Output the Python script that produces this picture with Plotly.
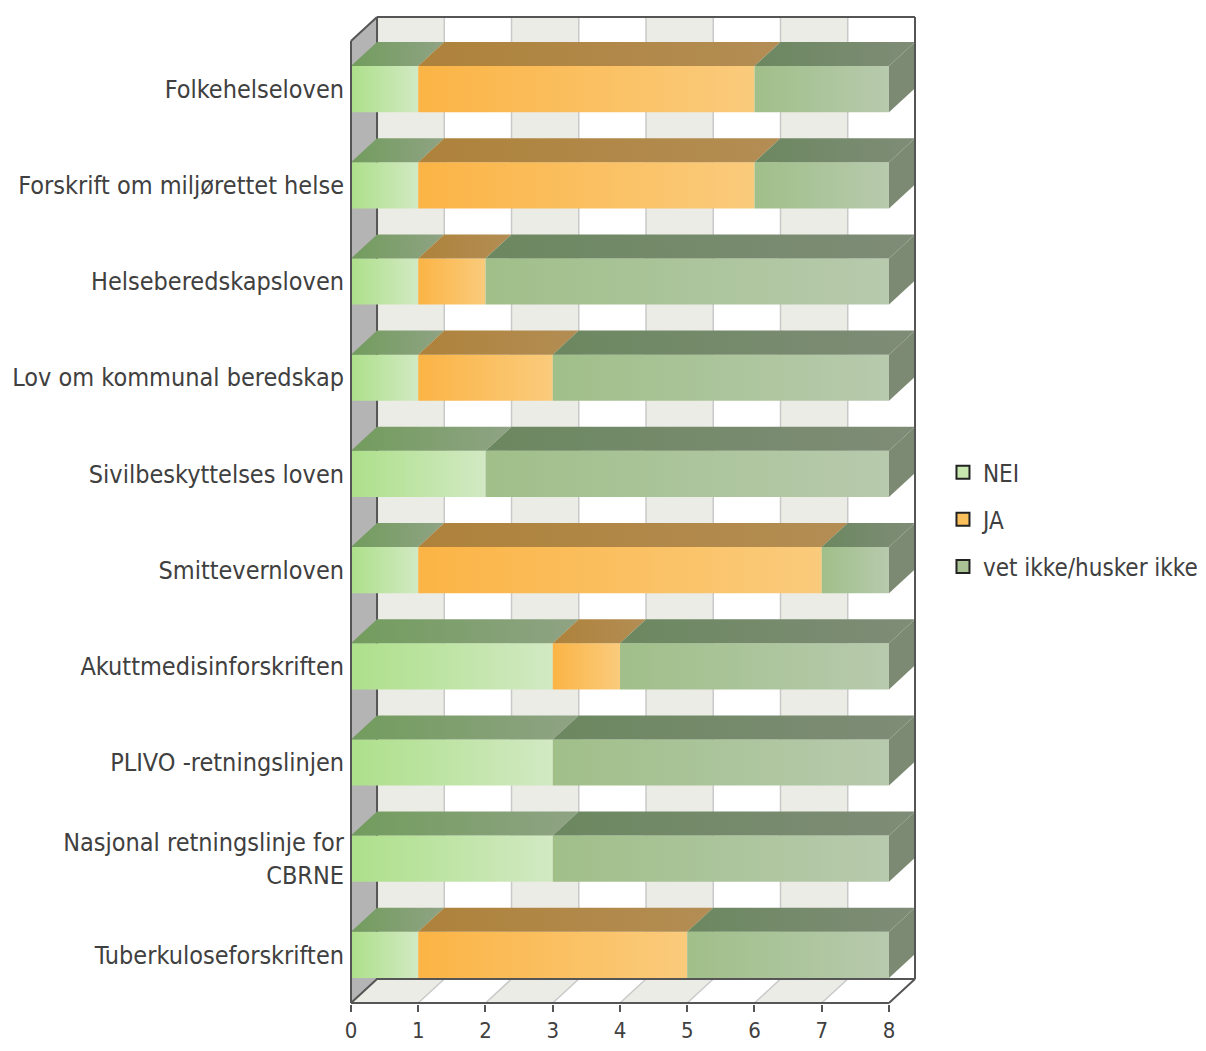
import plotly.graph_objects as go

# Survey answers per regulation: how many respondents answered NEI / JA / vet ikke
categories = [
    "Folkehelseloven",
    "Forskrift om miljørettet helse",
    "Helseberedskapsloven",
    "Lov om kommunal beredskap",
    "Sivilbeskyttelses loven",
    "Smittevernloven",
    "Akuttmedisinforskriften",
    "PLIVO -retningslinjen",
    "Nasjonal retningslinje for<br>CBRNE",
    "Tuberkuloseforskriften",
]
nei = [1, 1, 1, 1, 2, 1, 3, 3, 3, 1]
ja = [5, 5, 1, 2, 0, 6, 1, 0, 0, 4]
vet_ikke = [2, 2, 6, 5, 6, 1, 4, 5, 5, 3]
series_names = ["NEI", "JA", "vet ikke/husker ikke"]
x_ticks = [0, 1, 2, 3, 4, 5, 6, 7, 8]

# Face colours per series: front gradient, top gradient, side colour, legend swatch
front_cols = [("#ade08a", "#d2e9c3"), ("#fbb445", "#facb7c"), ("#a0bf89", "#b7caad")]
top_cols = [("#729c5d", "#8fa384"), ("#ae823b", "#b38d54"), ("#6c8860", "#7f8c77")]
side_cols = ["#7d9870", "#9e7a3e", "#7d8a73"]
swatch_cols = ["#c8e8b0", "#fbbf5c", "#a9c394"]

# Pseudo-3D geometry in axis units
XMAX = 8
DX = 0.387          # depth shift along x
DY = 0.25           # depth shift along y (reversed axis)
H = 0.24            # half bar thickness
N = len(categories)
PXX, PXY = 67.25, 96.2
PAD_L, PAD_R, PAD_T, PAD_B = 3, 3, 3, 1
Y_TOP = -0.5 - DY
Y_BOT = N - 0.5

GRID = "#c9c9c9"
BAND = "#ecece6"
EDGE = "#555555"
TEXT = "#404040"
FONT = "DejaVu Sans Condensed, DejaVu Sans, sans-serif"

fig = go.Figure()

def poly(xs, ys, **kw):
    fig.add_trace(go.Scatter(
        x=xs + [xs[0]], y=ys + [ys[0]], mode="lines", fill="toself",
        line=dict(width=0, color="rgba(0,0,0,0)"), hoverinfo="skip",
        showlegend=False, **kw))

# Back wall bands, floor bands and the grey left wall
shapes = []
for k in range(XMAX):
    col = BAND if k % 2 == 0 else "white"
    shapes.append(dict(type="rect", x0=k + DX, x1=k + 1 + DX, y0=Y_TOP, y1=Y_BOT - DY,
                       fillcolor=col, line=dict(width=0), layer="below"))
    shapes.append(dict(type="path",
                       path=f"M{k},{Y_BOT} L{k+1},{Y_BOT} L{k+1+DX},{Y_BOT-DY} L{k+DX},{Y_BOT-DY} Z",
                       fillcolor=col, line=dict(width=0), layer="below"))
for k in range(1, XMAX):
    shapes.append(dict(type="line", x0=k + DX, x1=k + DX, y0=Y_TOP, y1=Y_BOT - DY,
                       line=dict(color=GRID, width=1.5), layer="below"))
    shapes.append(dict(type="line", x0=k, x1=k + DX, y0=Y_BOT, y1=Y_BOT - DY,
                       line=dict(color=GRID, width=1.5), layer="below"))
shapes.append(dict(type="path",
                   path=f"M0,{Y_TOP+DY} L{DX},{Y_TOP} L{DX},{Y_BOT-DY} L0,{Y_BOT} Z",
                   fillcolor="#b4b4b4", line=dict(width=0), layer="below"))

# Dark outline of the box: hidden edges go under the bars, visible ones above
edges_below = [
    (DX, Y_TOP, DX, Y_BOT - DY),
    (DX, Y_BOT - DY, XMAX + DX, Y_BOT - DY),
]
edges_above = [
    (DX, Y_TOP, XMAX + DX, Y_TOP),
    (XMAX + DX, Y_TOP, XMAX + DX, Y_BOT - DY),
    (XMAX + DX, Y_BOT - DY, XMAX, Y_BOT),
    (0, Y_BOT, XMAX, Y_BOT),
    (0, Y_BOT, DX, Y_BOT - DY),
    (0, Y_TOP + DY, DX, Y_TOP),
    (0, Y_TOP + DY, 0, Y_BOT),
]
for layer, group in (("below", edges_below), ("above", edges_above)):
    for x0, y0, x1, y1 in group:
        shapes.append(dict(type="line", x0=x0, y0=y0, x1=x1, y1=y1,
                           line=dict(color=EDGE, width=2), layer=layer))

# Stacked bars drawn as front, top and end faces
for i, cat in enumerate(categories):
    vals = [nei[i], ja[i], vet_ikke[i]]
    start = 0
    last = max(s for s in range(3) if vals[s] > 0)
    for s, v in enumerate(vals):
        if v <= 0:
            continue
        x0, x1 = start, start + v
        poly([x0, x1, x1, x0], [i - H, i - H, i + H, i + H],
             fillgradient=dict(type="horizontal",
                               colorscale=[[0, front_cols[s][0]], [1, front_cols[s][1]]]))
        poly([x0, x1, x1 + DX, x0 + DX], [i - H, i - H, i - H - DY, i - H - DY],
             fillgradient=dict(type="horizontal",
                               colorscale=[[0, top_cols[s][0]], [1, top_cols[s][1]]]))
        if s == last:
            poly([x1, x1 + DX, x1 + DX, x1], [i - H, i - H - DY, i + H - DY, i + H],
                 fillcolor=side_cols[s])
        start = x1

# Legend entries
for s, name in enumerate(series_names):
    fig.add_trace(go.Scatter(
        x=[None], y=[None], mode="markers", name=name, legendgroup=name,
        marker=dict(symbol="square", size=13, color=swatch_cols[s],
                    line=dict(color="#222222", width=2))))

W, HGT = 1206, 1051
left_px = 351 - PAD_L
right_px = 351 + (XMAX + DX) * PXX + PAD_R
top_px = 41 - DY * PXY - PAD_T
bot_px = 1003 + PAD_B

fig.update_layout(
    width=W, height=HGT,
    margin=dict(l=left_px, r=W - right_px, t=top_px, b=HGT - bot_px, pad=0,
                autoexpand=False),
    paper_bgcolor="white", plot_bgcolor="white",
    shapes=shapes,
    font=dict(family=FONT, color=TEXT, size=25),
    xaxis=dict(range=[-PAD_L / PXX, XMAX + DX + PAD_R / PXX], tickvals=x_ticks,
               ticks="outside", ticklen=7, tickwidth=1.5, tickcolor=EDGE,
               showgrid=False, zeroline=False, showline=False, automargin=False,
               tickfont=dict(size=22, color=TEXT, family=FONT)),
    yaxis=dict(range=[Y_BOT + PAD_B / PXY, Y_TOP - PAD_T / PXY],
               tickvals=list(range(N)), ticktext=categories,
               showgrid=False, zeroline=False, showline=False, ticks="",
               ticklabelstandoff=3, automargin=False,
               tickfont=dict(size=25, color=TEXT, family=FONT)),
    legend=dict(x=(943 - left_px) / (right_px - left_px), xanchor="left",
                y=1 - (450 - top_px) / (bot_px - top_px), yanchor="top",
                font=dict(size=24, color=TEXT, family=FONT),
                tracegroupgap=13, bgcolor="rgba(0,0,0,0)"),
    showlegend=True,
)

fig.write_html("out.html")
